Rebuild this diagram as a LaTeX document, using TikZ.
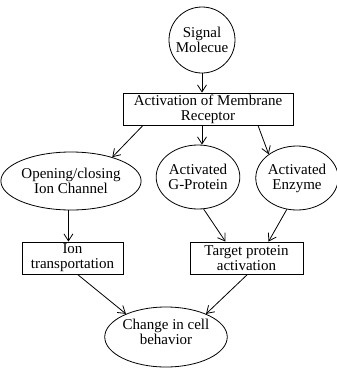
\documentclass[tikz,border=0pt]{standalone}
\usepackage{fontspec}
\setmainfont{Liberation Serif}
\usetikzlibrary{positioning, arrows.meta, shapes.geometric}

\begin{document}
\begin{tikzpicture}[x=1pt, y=-1pt, line width=0.8pt,
    font=\fontsize{15}{15}\selectfont,
    stepbox/.style={draw, inner sep=0pt, align=center},
    oval/.style={draw, ellipse, inner sep=0pt, align=center},
    flow/.style={-{Straight Barb[length=7pt, width=9pt]}}]
  \useasboundingbox (0,0) rectangle (337,368);
  \node[draw, circle, minimum size=66pt, inner sep=0pt, align=center] (sig) at (202,40)
    {Signal\\Molecue};
  \node[stepbox, minimum width=170pt, minimum height=32pt] (receptor) at (208,109)
    {Activation of Membrane\\Receptor};
  \node[oval, minimum width=125pt, minimum height=58pt] (opening) at (71,181)
    {Opening/closing\\Ion Channel};
  \node[oval, minimum width=78pt, minimum height=64pt] (gprot) at (198,177)
    {Activated\\G-Protein};
  \node[oval, minimum width=78pt, minimum height=64pt] (enzyme) at (297,178)
    {Activated\\Enzyme};
  \node[stepbox, minimum width=101pt, minimum height=32pt] (iont) at (72.5,258)
    {Ion\\transportation};
  \node[stepbox, minimum width=113pt, minimum height=32pt] (target) at (246.5,258)
    {Target protein\\activation};
  \node[oval, minimum width=111pt, minimum height=60pt] (change) at (166,337)
    {Change in cell\\behavior\\[-5pt]};
  \draw[flow] (sig) -- (sig |- receptor.north);
  \draw[flow] ([xshift=-65pt]receptor.south) -- (opening.30);
  \draw[flow] (receptor.south -| sig) -- (sig |- gprot.north);
  \draw[flow] ([xshift=50pt]receptor.south) -- (enzyme.140);
  \draw[flow] (opening.265) -- (opening.265 |- iont.north);
  \draw[flow] (gprot.-80) -- ([xshift=-21pt]target.north);
  \draw[flow] (enzyme.-108) -- ([xshift=22pt]target.north);
  \draw[flow] ([xshift=5pt]iont.south) -- (change.150);
  \draw[flow] ([xshift=1pt]target.south) -- (change.30);
\end{tikzpicture}
\end{document}
